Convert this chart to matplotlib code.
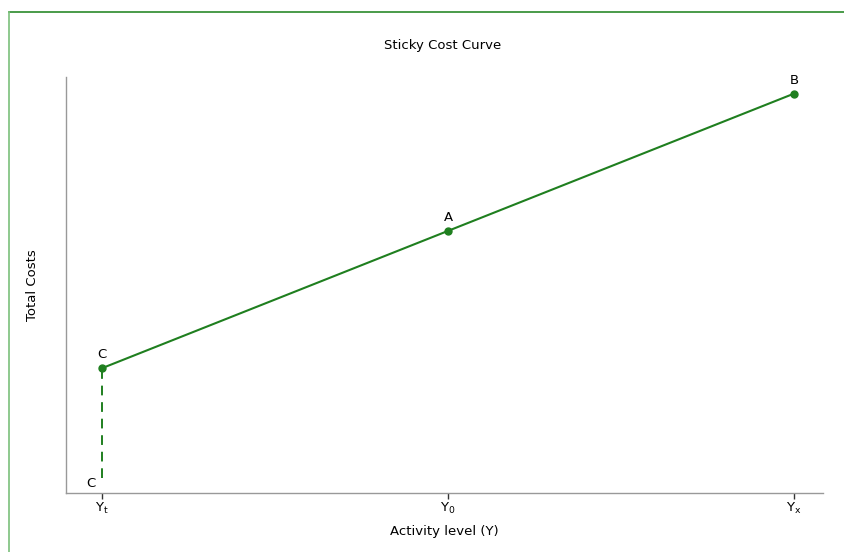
import matplotlib
matplotlib.use('Agg')
import matplotlib.pyplot as plt
from matplotlib.lines import Line2D

# data
levels = [r'$\mathregular{Y_t}$', r'$\mathregular{Y_0}$', r'$\mathregular{Y_x}$']
costs = [30, 63, 96]
point_names = ['C', 'A', 'B']
floor_cost = 3.5      # where the dashed drop from C ends
floor_label = 'C'

green = '#1f7f1f'
fs = 9.5
plt.rcParams['font.family'] = 'DejaVu Sans'

fig = plt.figure(figsize = (8.45, 5.52), dpi = 100)
ax = fig.add_axes([66/845, 1 - 493/552, (823 - 66)/845, (493 - 77)/552])

xs = list(range(len(levels)))
ax.plot(xs, costs, color = green, lw = 1.5, marker = 'o', ms = 5, zorder = 3)
ax.plot([xs[0], xs[0]], [floor_cost, costs[0]], color = green, lw = 1.4,
        ls = (0, (5, 3.5)), zorder = 2)

for x, y, name in zip(xs, costs, point_names):
    ax.annotate(name, (x, y), xytext = (0, 5), textcoords = 'offset points',
                ha = 'center', va = 'bottom', fontsize = fs)
ax.annotate(floor_label, (xs[0], 0), xytext = (-8, 2), textcoords = 'offset points',
            ha = 'center', va = 'bottom', fontsize = fs)

ax.set_xlim(-0.104, 2.084)
ax.set_ylim(0, 100)
ax.set_xticks(xs)
ax.set_xticklabels(levels, fontsize = fs)
ax.set_yticks([])
ax.tick_params(axis = 'x', length = 4, width = 1, color = '#333333', pad = 2)

for side in ['top', 'right']:
    ax.spines[side].set_visible(False)
for side in ['left', 'bottom']:
    ax.spines[side].set_color('#999999')
    ax.spines[side].set_linewidth(1)

fig.text(444/845, 1 - 532/552, 'Activity level (Y)', ha = 'center', va = 'center', fontsize = fs)
fig.text(33/845, 1 - 285/552, 'Total Costs', rotation = 90, ha = 'center', va = 'center', fontsize = fs)
fig.text(443/845, 1 - 45/552, 'Sticky Cost Curve', ha = 'center', va = 'center', fontsize = fs)

# green frame at top and left
fig.add_artist(Line2D([9.5/845, 1], [1 - 12/552, 1 - 12/552], transform = fig.transFigure,
                      color = '#2a8a2a', lw = 1.2))
fig.add_artist(Line2D([9.5/845, 9.5/845], [0, 1 - 12/552], transform = fig.transFigure,
                      color = '#7cc07c', lw = 1.2))

fig.savefig('out.png', dpi = 100)
